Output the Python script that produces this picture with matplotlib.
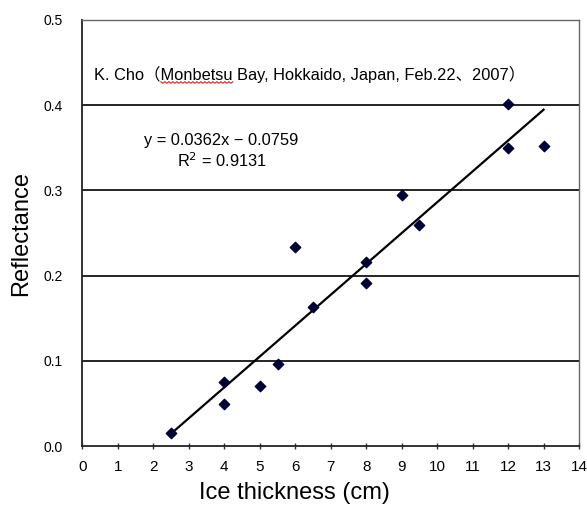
import matplotlib
matplotlib.use("Agg")
import matplotlib.pyplot as plt
from matplotlib.lines import Line2D
import numpy as np

plt.rcParams['font.family'] = ['Liberation Sans', 'Noto Sans CJK JP', 'DejaVu Sans']

thickness = [2.5, 4, 4, 5, 5.5, 6, 6.5, 8, 8, 9, 9.5, 12, 12, 13]
reflectance = [0.015, 0.075, 0.049, 0.071, 0.096, 0.233, 0.163, 0.216, 0.191, 0.295, 0.259, 0.401, 0.350, 0.352]
slope = 0.0362
intercept = -0.0759
r2 = 0.9131
xticks = list(range(0, 15))
yticks = [0.0, 0.1, 0.2, 0.3, 0.4, 0.5]
ytick_labels = ["0.0", "0.1", "0.2", "0.3", "0.4", "0.5"]
title_prefix = 'K. Cho（'
title_word = 'Monbetsu'
title_rest = ' Bay, Hokkaido, Japan, Feb.22、2007）'

fig = plt.figure(figsize=(5.87, 5.05), dpi=100)
ax = fig.add_axes([0.1405, 0.1168, 0.8459, 0.8436])

ax.set_xlim(0, 14)
ax.set_ylim(0, 0.5)

for yv in yticks[1:-1]:
    ax.axhline(yv, color='black', lw=1.2, zorder=1)

xfit = np.array([min(thickness), max(thickness)])
ax.plot(xfit, slope * xfit + intercept, color='black', lw=1.6, zorder=2)
ax.scatter(thickness, reflectance, marker='D', s=28, color='#000033', zorder=3)

ax.set_xticks(xticks)
ax.set_xticklabels([str(t) for t in xticks], fontsize=11)
ax.set_yticks(yticks)
ax.set_yticklabels(ytick_labels, fontsize=10)
ax.tick_params(axis='x', direction='inout', length=4, width=1, pad=8, color='#333333')
ax.tick_params(axis='y', length=0, pad=14)

for s in ['left', 'bottom']:
    ax.spines[s].set_color('#222222')
    ax.spines[s].set_linewidth(1.3)
for s in ['top', 'right']:
    ax.spines[s].set_color('#666666')
    ax.spines[s].set_linewidth(1.0)

fig.text(21/587, 1 - 233/505, 'Reflectance', fontsize=17, rotation=90, ha='center', va='center')
fig.text(294/587, 1 - 493/505, 'Ice thickness (cm)', fontsize=17, ha='center', va='center')

tx, ty = 0.024, 0.871
fs_title = 11.8
t_main = ax.text(tx, ty, title_prefix + title_word + title_rest,
                 transform=ax.transAxes, fontsize=fs_title, va='center', ha='left')
ax.text(0.124, 0.718, f'y = {slope:.4f}x − {abs(intercept):.4f}',
        transform=ax.transAxes, fontsize=11.8, va='center', ha='left')
ax.text(0.19, 0.671, f'R$^2$ = {r2:.4f}',
        transform=ax.transAxes, fontsize=11.8, va='center', ha='left')

# red wavy spell-check underline under the place name
fig.canvas.draw()
r = fig.canvas.get_renderer()
tmp1 = ax.text(tx, ty, title_prefix, transform=ax.transAxes, fontsize=fs_title, va='center', ha='left')
tmp2 = ax.text(tx, ty, title_prefix + title_word, transform=ax.transAxes, fontsize=fs_title, va='center', ha='left')
b1 = tmp1.get_window_extent(r)
b2 = tmp2.get_window_extent(r)
bm = t_main.get_window_extent(r)
tmp1.remove(); tmp2.remove()
x0, x1 = b1.x1, b2.x1
yb = bm.y0 + 1
n = int((x1 - x0) / 2)
xs = np.linspace(x0, x1, n + 1)
ys = yb + np.where(np.arange(n + 1) % 2 == 0, 0.8, -0.8)
inv = fig.transFigure.inverted()
pts = inv.transform(np.column_stack([xs, ys]))
fig.add_artist(Line2D(pts[:, 0], pts[:, 1], color='#dd2222', lw=0.8))

fig.savefig('out.png', dpi=100)
